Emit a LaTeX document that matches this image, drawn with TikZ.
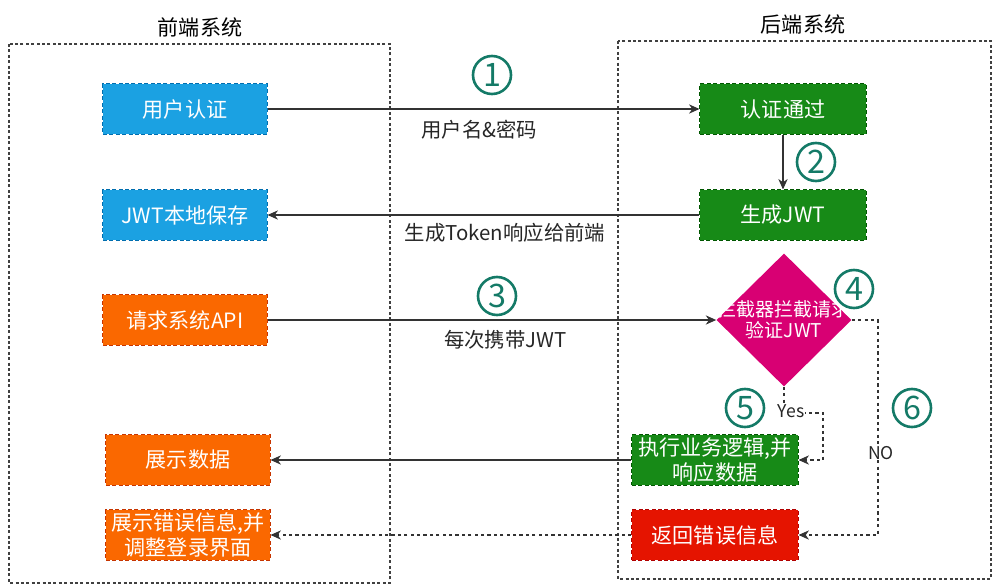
\documentclass[tikz,border=0pt]{standalone}
\usepackage{fontspec}
\setmainfont{Noto Sans CJK SC}
\usetikzlibrary{
  arrows.meta,
  calc,
  shapes.geometric,
}
\definecolor{jwtblue}{HTML}{1BA1E2}
\definecolor{jwtblueline}{HTML}{006EAF}
\definecolor{jwtgreen}{HTML}{178A17}
\definecolor{jwtgreenline}{HTML}{005700}
\definecolor{jwtorange}{HTML}{FA6800}
\definecolor{jwtorangeline}{HTML}{C73500}
\definecolor{jwtred}{HTML}{E51400}
\definecolor{jwtredline}{HTML}{B20000}
\definecolor{jwtmagenta}{HTML}{D80073}
\definecolor{stepteal}{HTML}{147A67}
\tikzset{
  >={Stealth[length=2.6mm,width=2.3mm,inset=0.8mm]},
  box/.style={dash pattern=on 1mm off 0.6mm, line width=0.25mm,
    minimum width=4.1cm, minimum height=1.25cm, inner sep=0pt,
    text=white, align=center, font=\fontsize{15}{18}\selectfont},
  bluebox/.style={box, fill=jwtblue, draw=jwtblueline},
  greenbox/.style={box, fill=jwtgreen, draw=jwtgreenline},
  orangebox/.style={box, fill=jwtorange, draw=jwtorangeline},
  redbox/.style={box, fill=jwtred, draw=jwtredline},
  frame/.style={draw=black!75, line width=0.3mm, dash pattern=on 0.75mm off 0.6mm},
  flow/.style={draw=black!80, line width=0.35mm, ->},
  backflow/.style={flow, dash pattern=on 0.8mm off 0.8mm},
  edgelabel/.style={text=black!85, font=\fontsize{14.5}{16}\selectfont},
  branchlabel/.style={text=black!85, fill=white, inner sep=0.5pt,
    font=\fontsize{12.5}{14}\selectfont},
  stepmark/.style={circle, draw=stepteal, line width=0.65mm, minimum size=0.95cm,
    inner sep=0pt, text=stepteal, font=\fontsize{23}{23}\selectfont},
}

\begin{document}
\begin{tikzpicture}[x=0.025cm, y=-0.025cm]
  \useasboundingbox (0, 0) rectangle (1002, 586);

  % system frames
  \draw [frame] (9, 44) rectangle (390, 583);
  \draw [frame] (618, 41) rectangle (991, 579);
  \node [font=\fontsize{15}{18}\selectfont] (fronttitle) at (200, 27) {前端系统};
  \node [font=\fontsize{15}{18}\selectfont] (backtitle) at (803, 24) {后端系统};

  % front end
  \node [bluebox] (auth) at (185, 109) {用户认证};
  \node [bluebox] (store) at (185, 215) {JWT本地保存};
  \node [orangebox] (request) at (185, 320) {请求系统API};
  \node [orangebox] (show) at (188, 460) {展示数据};
  \node [orangebox] (showerr) at (188, 535) {展示错误信息,并\\调整登录界面};

  % back end
  \node [greenbox, minimum width=4.15cm] (pass) at (783, 109) {认证通过};
  \node [greenbox, minimum width=4.15cm] (makejwt) at (783, 215) {生成JWT};
  \node [diamond, fill=jwtmagenta, minimum width=3.375cm, minimum height=3.325cm,
    inner sep=0pt] (check) at (784, 320) {};
  \node [text=white, align=center, font=\fontsize{13.5}{15}\selectfont]
    (checktext) at (check.center) {拦截器拦截请求\\验证JWT};
  \node [greenbox, minimum width=4.15cm] (exec) at (715, 460) {执行业务逻辑,并\\响应数据};
  \node [redbox, minimum width=4.15cm] (error) at (715, 535) {返回错误信息};

  \coordinate (yesbend) at (823, 413);
  \coordinate (nobend) at (878, 320);

  % connectors
  \draw [flow] (auth) -- (pass)
    node [edgelabel, pos=0.49, yshift=-0.53cm] {用户名\&密码};
  \draw [flow] (pass) -- (makejwt);
  \draw [flow] (makejwt) -- (store)
    node [edgelabel, pos=0.45, yshift=-0.45cm] {生成Token响应给前端};
  \draw [flow] (request) -- (check)
    node [edgelabel, pos=0.53, yshift=-0.5cm] {每次携带JWT};
  \draw [backflow] (check.south) |- (yesbend) |- (exec.east);
  \node [branchlabel] (yes) at (791, 411) {Yes};
  \draw [backflow] (check.east) -- (nobend) |- (error.east);
  \node [branchlabel] (no) at (881, 453) {NO};
  \draw [flow] (exec) -- (show);
  \draw [backflow] (error) -- (showerr);

  % step numbers
  \foreach \n/\px/\py in {1/492/75, 2/816/162, 3/497/296, 4/854/289, 5/745/408, 6/912/408}
  {
    \node [stepmark] (step\n) at (\px, \py) {\n};
  }
\end{tikzpicture}
\end{document}
